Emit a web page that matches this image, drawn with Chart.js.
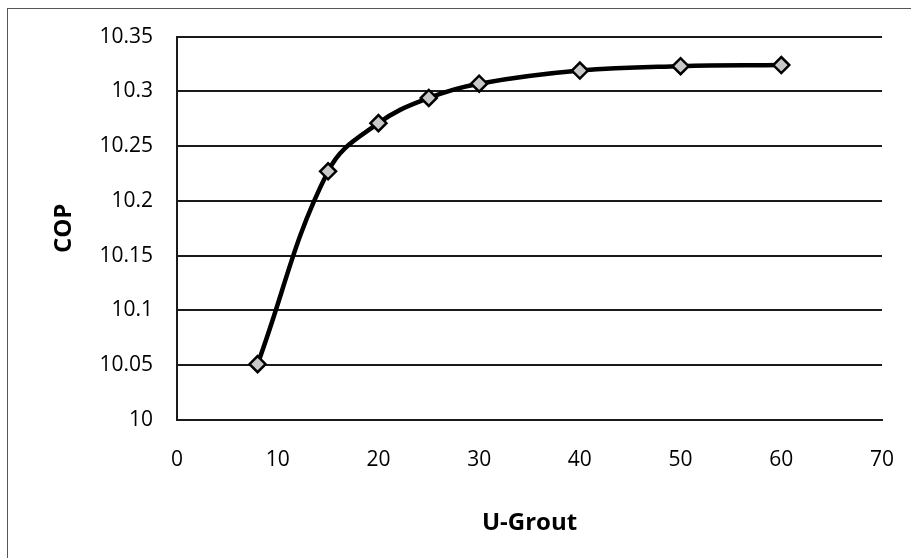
<!DOCTYPE html>
<html>
<head>
<meta charset="utf-8">
<script src="https://cdn.jsdelivr.net/npm/chart.js@4/dist/chart.umd.min.js"></script>
<style>
  html, body { margin: 0; padding: 0; background: #fff; }
  #wrap { position: relative; width: 911px; height: 558px; }
  #frame { position: absolute; left: 7px; top: 8px; width: 920px; height: 560px; border-left: 1px solid #555; border-top: 1px solid #555; pointer-events: none; }
</style>
</head>
<body>
<div id="wrap">
  <canvas id="c" width="911" height="558"></canvas>
  <div id="frame"></div>
</div>
<script>
const uGrout = [8, 15, 20, 25, 30, 40, 50, 60];
const cop = [10.051, 10.227, 10.271, 10.294, 10.307, 10.319, 10.323, 10.324];
const xTicks = [0, 10, 20, 30, 40, 50, 60, 70];
const yTicks = [10, 10.05, 10.1, 10.15, 10.2, 10.25, 10.3, 10.35];

const FONT = "'Open Sans', sans-serif";

new Chart(document.getElementById('c'), {
  type: 'line',
  data: {
    datasets: [{
      data: uGrout.map((x, i) => ({ x, y: cop[i] })),
      borderColor: '#000',
      borderWidth: 4.5,
      tension: 0.4,
      pointStyle: 'rectRot',
      pointRadius: 8,
      pointBackgroundColor: '#c8c8c8',
      pointBorderColor: '#000',
      pointBorderWidth: 2.5
    }]
  },
  options: {
    responsive: false,
    animation: false,
    layout: { padding: { top: 36, right: 29, left: 40, bottom: 0 } },
    plugins: { legend: { display: false }, tooltip: { enabled: false } },
    scales: {
      x: {
        type: 'linear', min: 0, max: 70,
        afterBuildTicks: s => { s.ticks = xTicks.map(v => ({ value: v })); },
        afterFit: s => { s.height = 138; s.paddingRight = 0; s.paddingLeft = 0; },
        grid: { display: false, drawTicks: false },
        border: { display: true, color: '#1a1a1a', width: 2 },
        ticks: { color: '#000', padding: 27, font: { family: FONT, size: 21 } },
        title: { display: true, text: 'U-Grout', color: '#000', padding: { top: 3, bottom: 20 }, font: { family: FONT, size: 24, weight: 'bold' } }
      },
      y: {
        type: 'linear', min: 10, max: 10.35,
        afterBuildTicks: s => { s.ticks = yTicks.map(v => ({ value: v })); },
        afterFit: s => { s.width = 137; },
        grid: { color: '#1a1a1a', lineWidth: 2, drawTicks: false },
        border: { display: true, color: '#1a1a1a', width: 2 },
        ticks: { color: '#000', padding: 24, font: { family: FONT, size: 21 }, callback: v => String(+v.toFixed(2)) },
        title: { display: true, text: 'COP', color: '#000', padding: { top: 10, bottom: 0 }, font: { family: FONT, size: 24, weight: 'bold' } }
      }
    }
  }
});
</script>
</body>
</html>
